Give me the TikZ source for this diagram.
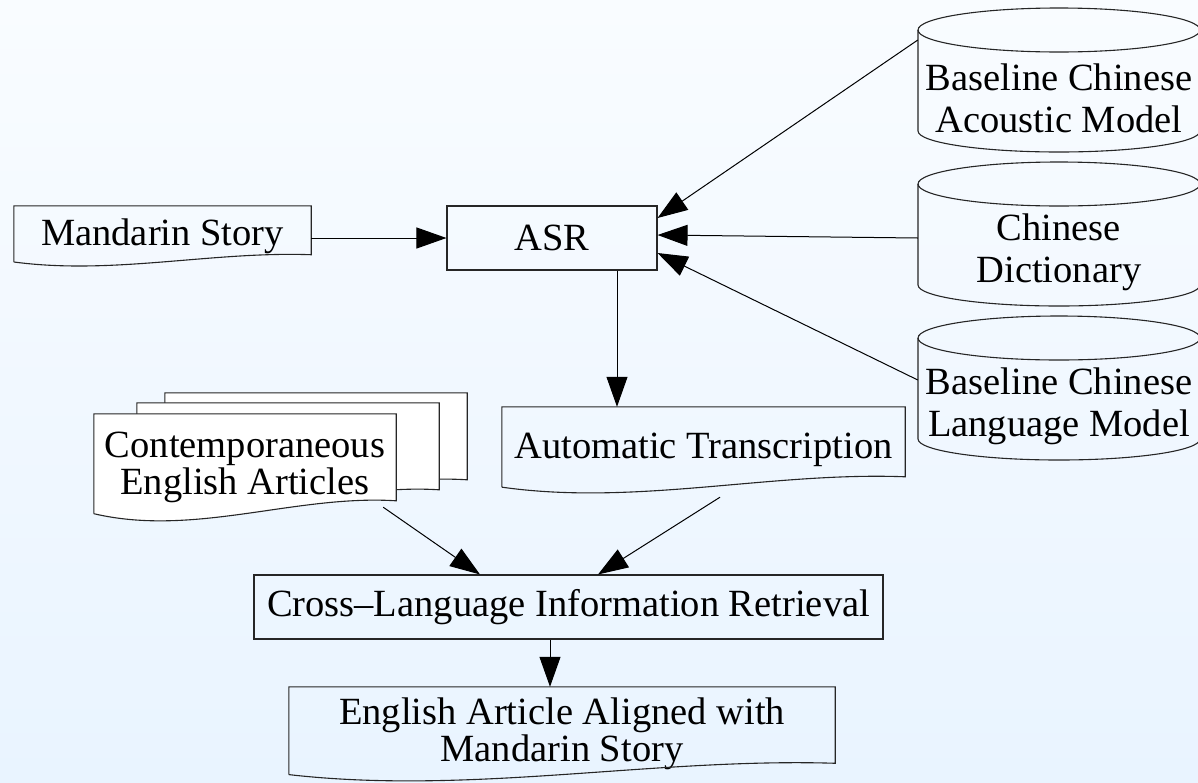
\documentclass[tikz,border=0pt]{standalone}
\usepackage{fontspec}
\setmainfont{Liberation Serif}
\usetikzlibrary{arrows.meta,backgrounds,calc}
\definecolor{bgtop}{RGB}{249,252,255}
\definecolor{bgbot}{RGB}{233,244,255}

\begin{document}
\begin{tikzpicture}[x=1pt,y=-1pt,
  font=\fontsize{38.5}{37}\selectfont,
  outline/.style={draw=black!85,line width=1.1pt},
  docbox/.style={inner sep=0pt,align=center},
  procbox/.style={outline,inner sep=0pt,align=center},
  dbstore/.style={inner sep=0pt,align=center,minimum width=282pt,font=\fontsize{38.5}{42}\selectfont},
  arr/.style={-{Triangle[length=30pt,width=21pt]},line width=1pt}]
\useasboundingbox (0,0) rectangle (1198,782);

\node[docbox,minimum width=297pt,minimum height=60pt] (story) at (162.5,236) {Mandarin Story};
\node[procbox,minimum width=210pt,minimum height=64pt] (asr) at (552,238) {ASR};
\node[docbox,minimum width=403pt,minimum height=86pt] (trans) at (703.5,450) {Automatic Transcription};
\node[docbox,minimum width=302pt,minimum height=107pt] (contemp) at (245,467.5) {Contemporaneous\\English Articles};
\node[procbox,minimum width=629pt,minimum height=64pt] (clir) at (568.5,607) {Cross–Language Information Retrieval};
\node[docbox,minimum width=546pt,minimum height=94pt] (result) at (562,734) {English Article Aligned with\\Mandarin Story};
\node[dbstore] (acoustic) at (1059,98) {Baseline Chinese\\Acoustic Model};
\node[dbstore] (dict) at (1059,252) {Chinese\\Dictionary};
\node[dbstore] (langmod) at (1059,406) {Baseline Chinese\\Language Model};

% document outlines
\foreach \n in {story,trans,result}{
  \begin{scope}[shift={(\n.south west)},x={($(\n.south east)-(\n.south west)$)},y={($(\n.north west)-(\n.south west)$)}]
    \draw[outline] (0,0.07) -- (0,1) -- (1,1) -- (1,0.19) .. controls (0.667,0.25) and (0.333,-0.15) .. (0,0.07);
  \end{scope}
}

% stack of articles, behind the text
\begin{scope}[on background layer]
  \shade[top color=bgtop,bottom color=bgbot] (0,0) rectangle (1198,782);
  \foreach \dx/\dy in {71/21,43/11,0/0}{
    \begin{scope}[shift={(contemp.south west)},xshift=\dx pt,yshift=\dy pt,x={($(contemp.south east)-(contemp.south west)$)},y={($(contemp.north west)-(contemp.south west)$)}]
      \draw[outline,fill=white] (0,0.07) -- (0,1) -- (1,1) -- (1,0.19) .. controls (0.667,0.25) and (0.333,-0.15) .. (0,0.07);
    \end{scope}
  }
\end{scope}

% data stores
\foreach \n in {acoustic,dict,langmod}{
  \begin{scope}[shift={(\n.center)}]
    \draw[outline] (-141,-68) -- (-141,33) arc[start angle=180,end angle=0,x radius=141,y radius=21] -- (141,-68);
    \draw[outline] (0,-68) ellipse[x radius=141,y radius=22];
  \end{scope}
}

\draw[arr] (story.east |- asr.west) -- (asr.west);
\draw[arr] ([yshift=58pt]acoustic.west) -- ([yshift=20pt]asr.east);
\draw[arr] ([yshift=14pt]dict.west) -- ([yshift=3pt]asr.east);
\draw[arr] ([yshift=26pt]langmod.west) -- ([yshift=-15pt]asr.east);
\draw[arr] ([xshift=65pt]asr.south) -- ([xshift=65pt]asr.south |- trans.north);
\draw[arr] ([xshift=-13pt,yshift=14pt]contemp.south east) -- ([xshift=-88.5pt]clir.north);
\draw[arr] ([xshift=16.5pt,yshift=-4pt]trans.south) -- ([xshift=29.5pt]clir.north);
\draw[arr] ([xshift=-18.5pt]clir.south) -- ([xshift=-18.5pt]clir.south |- result.north);
\end{tikzpicture}
\end{document}
